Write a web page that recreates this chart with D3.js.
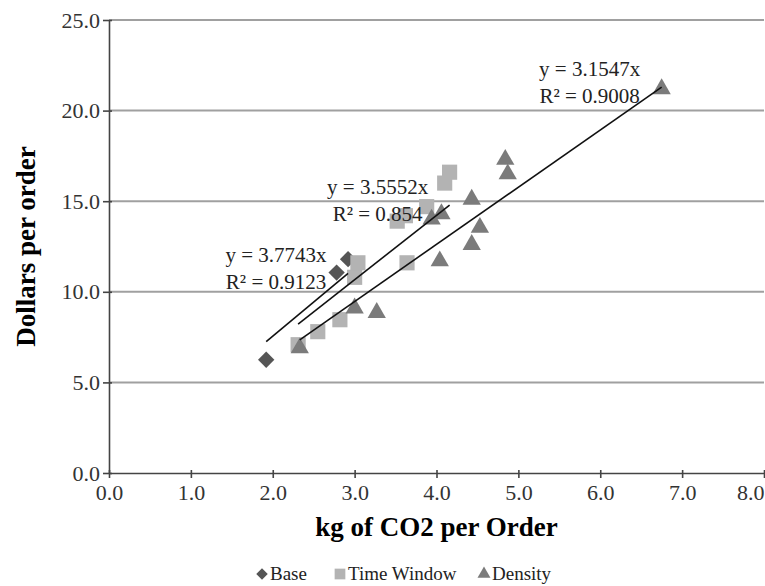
<!DOCTYPE html>
<html>
<head>
<meta charset="utf-8">
<script src="https://cdn.jsdelivr.net/npm/d3@7"></script>
<style>
  body { margin: 0; background: #fff; }
  svg text { font-family: "Liberation Serif", "Times New Roman", serif; }
  .grid line { stroke: #a0a0a0; stroke-width: 2; }
  .trend { stroke: #111; stroke-width: 1.6; fill: none; }
</style>
</head>
<body>
<svg width="765" height="586"></svg>
<script>
// values
var xTicks = [0, 1, 2, 3, 4, 5, 6, 7, 8];
var yTicks = [0, 5, 10, 15, 20, 25];

var seriesNames = ["Base", "Time Window", "Density"];

var basePts = [[1.92, 6.25], [2.78, 11.06], [2.92, 11.8]];
var timeWindowPts = [[2.31, 7.08], [2.55, 7.8], [2.82, 8.46], [3.0, 10.8], [3.04, 11.6],
    [3.64, 11.6], [3.52, 13.9], [3.62, 14.2], [3.88, 14.7], [4.1, 16.0], [4.16, 16.6]];
var densityPts = [[2.33, 6.9], [3.0, 9.1], [3.27, 8.85], [3.94, 14.0], [4.06, 14.3],
    [4.04, 11.7], [4.43, 12.6], [4.43, 15.1], [4.53, 13.55], [4.84, 17.3], [4.87, 16.5], [6.75, 21.2]];

var slopes = [3.7743, 3.5552, 3.1547];
var eqLabels = ["y = 3.7743x", "y = 3.5552x", "y = 3.1547x"];
var r2Labels = ["R\u00b2 = 0.9123", "R\u00b2 = 0.854", "R\u00b2 = 0.9008"];

var allPts = [basePts, timeWindowPts, densityPts];

var svg = d3.select("svg");

var x = d3.scaleLinear().domain([0, 8]).range([109, 764]);
var y = d3.scaleLinear().domain([0, 25]).range([473, 20]);

var colors = ["#555555", "#b3b3b3", "#7b7b7b"];
var symbols = [d3.symbolDiamond2, d3.symbolSquare, d3.symbolTriangle];
var symSizes = [170, 230, 145];

//gridlines
svg.append("g").attr("class", "grid")
    .selectAll("line")
    .data(yTicks.filter(d => d > 0))
    .enter().append("line")
    .attr("x1", x(0)).attr("x2", x(8))
    .attr("y1", d => y(d)).attr("y2", d => y(d));

//axes
var xAxis = d3.axisBottom(x).tickValues(xTicks).tickFormat(d3.format(".1f"))
    .tickSizeInner(5).tickSizeOuter(0).tickPadding(6);
var yAxis = d3.axisLeft(y).tickValues(yTicks).tickFormat(d3.format(".1f"))
    .tickSizeInner(6).tickSizeOuter(0).tickPadding(3);

var gx = svg.append("g").attr("transform", "translate(0," + y(0) + ")").call(xAxis);
var gy = svg.append("g").attr("transform", "translate(" + x(0) + ",0)").call(yAxis);

[gx, gy].forEach(g => {
    g.attr("font-family", "Liberation Serif, serif").attr("font-size", 22);
    g.select(".domain").attr("stroke", "#444").attr("stroke-width", 1.6);
    g.selectAll(".tick line").attr("stroke", "#444").attr("stroke-width", 1.6);
    g.selectAll(".tick text").attr("fill", "#333");
});
// ticks cross the axis a little
gx.selectAll(".tick line").attr("y1", -3);
gy.selectAll(".tick line").attr("x1", 3).attr("x2", -6);
// last x label sits against the right edge
gx.selectAll(".tick text").filter(d => d == 8).attr("text-anchor", "end").attr("dx", 0);

//axis titles
svg.append("text")
    .attr("x", (x(0) + x(8)) / 2)
    .attr("y", 536)
    .attr("text-anchor", "middle")
    .style("font-size", "27px")
    .style("font-weight", "bold")
    .text("kg of CO2 per Order");

svg.append("text")
    .attr("transform", "translate(35," + ((y(0) + y(25)) / 2) + ") rotate(-90)")
    .attr("text-anchor", "middle")
    .style("font-size", "27px")
    .style("font-weight", "bold")
    .text("Dollars per order");

//points
allPts.forEach(function(pts, i) {
    svg.append("g").selectAll("path")
        .data(pts)
        .enter().append("path")
        .attr("d", d3.symbol().type(symbols[i]).size(symSizes[i]))
        .attr("transform", d => "translate(" + x(d[0]) + "," + y(d[1]) + ")")
        .attr("fill", colors[i]);
});

//trendlines through the origin, drawn over the data range
allPts.forEach(function(pts, i) {
    var ext = d3.extent(pts, d => d[0]);
    svg.append("line")
        .attr("class", "trend")
        .attr("x1", x(ext[0])).attr("y1", y(slopes[i] * ext[0]))
        .attr("x2", x(ext[1])).attr("y2", y(slopes[i] * ext[1]));

    var cx = x(ext[1]) - 72,
        cy = y(slopes[i] * ext[1]) - 11;
    var t = svg.append("text")
        .attr("text-anchor", "middle")
        .attr("fill", "#222")
        .style("font-size", "21px");
    t.append("tspan").attr("x", cx).attr("y", cy).text(eqLabels[i]);
    t.append("tspan").attr("x", cx).attr("y", cy + 27).text(r2Labels[i]);
});

//legend
var legend = svg.append("g").attr("transform", "translate(0,574)");
var lx = [262, 340, 484];
seriesNames.forEach(function(name, i) {
    legend.append("path")
        .attr("d", d3.symbol().type(symbols[i]).size(symSizes[i] * 0.5))
        .attr("transform", "translate(" + lx[i] + ",0)")
        .attr("fill", colors[i]);
    legend.append("text")
        .attr("x", lx[i] + 8)
        .attr("y", 6)
        .style("font-size", "19px")
        .attr("fill", "#222")
        .text(name);
});
</script>
</body>
</html>
